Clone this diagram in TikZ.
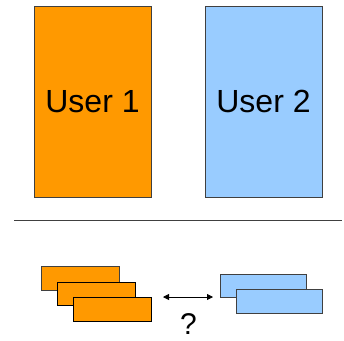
\documentclass[tikz,border=0pt]{standalone}
\usepackage{fontspec}
\setmainfont{Liberation Sans}
\usetikzlibrary{arrows.meta}
\definecolor{userA}{HTML}{FF9900}
\definecolor{userB}{HTML}{99CCFF}
\definecolor{edge}{HTML}{404040}
\begin{document}
\begin{tikzpicture}[x=1pt,y=-1pt,
  bigbox/.style={draw=edge,line width=1pt,minimum width=117pt,minimum height=191pt,inner sep=0pt,font=\fontsize{32}{36}\selectfont},
  orangebar/.style={draw=black,fill=userA,line width=1pt,minimum width=78pt,minimum height=23.5pt,inner sep=0pt},
  bluebar/.style={draw=edge,fill=userB,line width=1pt,minimum width=86pt,minimum height=23.5pt,inner sep=0pt}]
\useasboundingbox (0,0) rectangle (344,340);
% the two users
\node[bigbox,fill=userA] (u1) at (92.5,101.5) {User 1};
\node[bigbox,fill=userB] (u2) at (263.5,101.5) {User 2};
% separator
\coordinate (sl) at (14,220);
\coordinate (sr) at (342,220);
\draw[edge,line width=0.8pt] (sl) -- (sr);
% stacked items of user 1
\node[orangebar,draw=edge] (o1) at (80,278.5) {};
\node[orangebar] (o2) at (96,294) {};
\node[orangebar] (o3) at (112,309.5) {};
% stacked items of user 2
\node[bluebar] (b1) at (263,286) {};
\node[bluebar] (b2) at (279,301.5) {};
% correspondence arrow
\coordinate (al) at (163,297);
\coordinate (ar) at (213,297);
\draw[line width=0.8pt,{Triangle[length=6pt,width=6pt]}-{Triangle[length=6pt,width=6pt]},black] (al) -- (ar);
\node[font=\fontsize{30}{34}\selectfont,anchor=base,inner sep=0pt,text depth=0pt] (q) at (188.5,334) {?};
\end{tikzpicture}
\end{document}
